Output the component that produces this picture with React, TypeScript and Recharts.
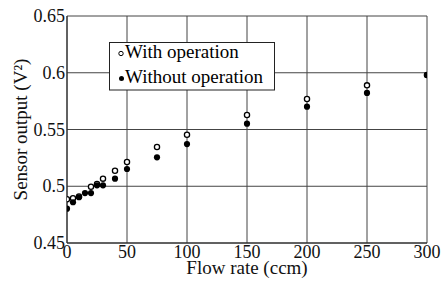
import React from 'react';
import { ScatterChart, Scatter, XAxis, YAxis, CartesianGrid, Label } from 'recharts';

// flow rate (ccm) and sensor output (V^2)
const withFlow = [0, 5, 10, 20, 25, 30, 40, 50, 75, 100, 150, 200, 250, 300];
const withOutput = [0.4885, 0.4894, 0.491, 0.4996, 0.502, 0.5067, 0.5137, 0.5214, 0.5346, 0.5454, 0.5628, 0.5769, 0.5889, 0.598];

const withoutFlow = [0, 5, 10, 15, 20, 25, 30, 40, 50, 75, 100, 150, 200, 250, 300];
const withoutOutput = [0.4802, 0.4859, 0.4903, 0.494, 0.494, 0.5008, 0.5008, 0.5067, 0.5152, 0.5255, 0.5372, 0.5551, 0.5701, 0.5822, 0.598];

const xTicks = [0, 50, 100, 150, 200, 250, 300];
const yTicks = [0.45, 0.5, 0.55, 0.6, 0.65];

const FONT = '"Liberation Serif", "Times New Roman", serif';

const withData = withFlow.map((x, i) => ({ x, y: withOutput[i] }));
const withoutData = withoutFlow.map((x, i) => ({ x, y: withoutOutput[i] }));

const OpenDot = (props: any) => (
  <circle cx={props.cx} cy={props.cy} r={2.6} fill="#fff" stroke="#000" strokeWidth={1.3} />
);
const FilledDot = (props: any) => <circle cx={props.cx} cy={props.cy} r={3.1} fill="#000" />;

const XTick = (props: any) => (
  <text x={props.x} y={props.y + 13} textAnchor="middle" fontFamily={FONT} fontSize={18} fill="#111">
    {props.payload.value}
  </text>
);

const YTick = (props: any) => (
  <text x={props.x} y={props.y + 6} textAnchor="end" fontFamily={FONT} fontSize={18} fill="#111">
    {String(parseFloat(Number(props.payload.value).toFixed(2)))}
  </text>
);

// legend box drawn over the plot, like the original figure
const LegendBox = () => (
  <svg width={166} height={49} style={{ position: 'absolute', left: 109, top: 42, display: 'block' }}>
    <rect x={0.5} y={0.5} width={165} height={47.5} fill="#fff" stroke="#222" />
    <circle cx={12} cy={11.5} r={2.2} fill="#fff" stroke="#000" strokeWidth={1} />
    <text x={16} y={16} fontFamily={FONT} fontSize={19} fill="#000">With operation</text>
    <circle cx={12.5} cy={36.5} r={2.5} fill="#000" />
    <text x={16} y={41} fontFamily={FONT} fontSize={19} fill="#000">Without operation</text>
  </svg>
);

export default function App() {
  return (
    <div style={{ position: 'absolute', left: 0, top: 0, fontFamily: FONT }}>
      <ScatterChart
        width={442}
        height={284}
        margin={{ top: 16, right: 15, bottom: 0, left: 0 }}
        style={{ fontFamily: FONT }}
      >
        <CartesianGrid stroke="#444" strokeWidth={1} horizontalValues={yTicks} verticalValues={xTicks} />
        <XAxis
          type="number"
          dataKey="x"
          domain={[0, 300]}
          ticks={xTicks}
          allowDataOverflow
          height={41}
          tickSize={0}
          tickMargin={2}
          axisLine={{ stroke: '#222' }}
          tick={<XTick />}
        >
          <Label value="Flow rate (ccm)" position="insideBottom" offset={10} style={{ fontFamily: FONT, fontSize: 19, fill: '#111' }} />
        </XAxis>
        <YAxis
          type="number"
          dataKey="y"
          domain={[0.45, 0.65]}
          ticks={yTicks}
          allowDataOverflow
          width={67}
          tickSize={0}
          tickMargin={2}
          axisLine={{ stroke: '#222' }}
          tick={<YTick />}
        >
          <Label
            value="Sensor output (V²)"
            angle={-90}
            position="insideLeft"
            offset={20}
            style={{ fontFamily: FONT, fontSize: 19, fill: '#111', textAnchor: 'middle' }}
          />
        </YAxis>
        <Scatter name="With operation" data={withData} shape={OpenDot} isAnimationActive={false} />
        <Scatter name="Without operation" data={withoutData} shape={FilledDot} isAnimationActive={false} />
      </ScatterChart>
      <LegendBox />
    </div>
  );
}
